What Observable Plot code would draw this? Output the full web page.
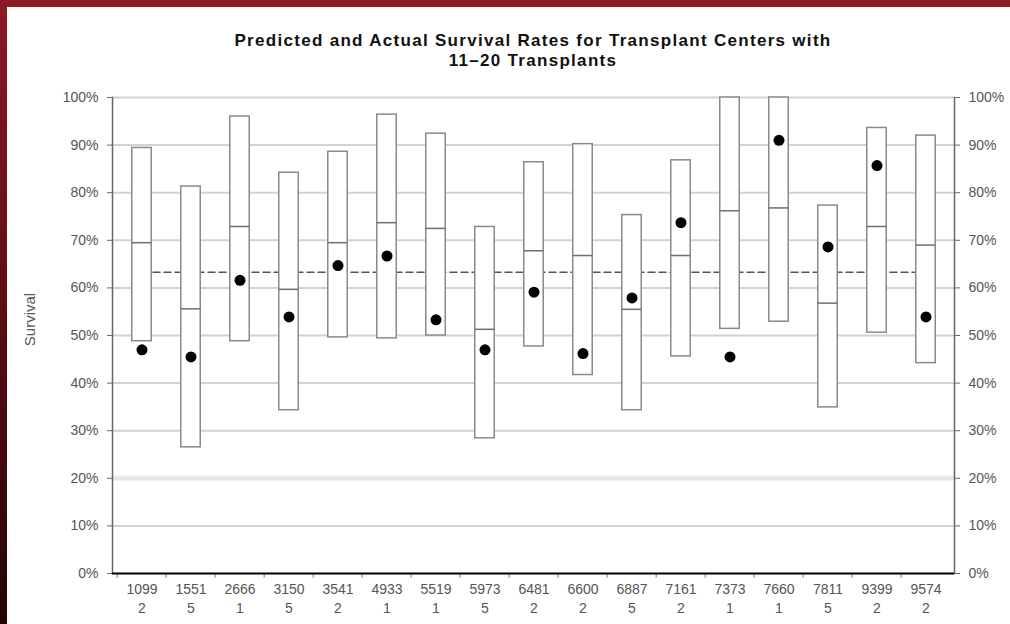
<!DOCTYPE html>
<html>
<head>
<meta charset="utf-8">
<script src="https://cdn.jsdelivr.net/npm/d3@7"></script>
<script src="https://cdn.jsdelivr.net/npm/@observablehq/plot@0.6"></script>
<style>
  html, body { margin: 0; padding: 0; background: #fff; }
  #page { position: relative; width: 1010px; height: 624px; overflow: hidden; background: #fff; font-family: "Liberation Sans", Arial, sans-serif; }
  #topbar { position: absolute; left: 0; top: 0; width: 1010px; height: 7px; background: #8b1a23; }
  #leftbar { position: absolute; left: 0; top: 0; width: 7px; height: 624px; background: linear-gradient(#8b1a23, #5a0e14 50%, #220406); }
  #title { position: absolute; left: 112px; top: 31px; width: 842px; text-align: center; font-weight: bold; font-size: 17px; letter-spacing: 1.3px; line-height: 20px; color: #111; }
  #chart { position: absolute; left: 0; top: 80px; }
</style>
</head>
<body>
<div id="page">
  <div id="topbar"></div>
  <div id="leftbar"></div>
  <div id="title">Predicted and Actual Survival Rates for Transplant Centers with<br>11–20 Transplants</div>
  <div id="chart"></div>
</div>
<script>
const ids    = ["1099","1551","2666","3150","3541","4933","5519","5973","6481","6600","6887","7161","7373","7660","7811","9399","9574"];
const codes  = ["2","5","1","5","2","1","1","5","2","2","5","2","1","1","5","2","2"];
const lower  = [48.8, 26.5, 48.8, 34.3, 49.6, 49.4, 50.0, 28.4, 47.7, 41.7, 34.3, 45.6, 51.4, 52.9, 34.9, 50.6, 44.2];
const middle = [69.5, 55.6, 72.9, 59.7, 69.5, 73.7, 72.5, 51.3, 67.8, 66.8, 55.5, 66.8, 76.2, 76.8, 56.8, 72.9, 69.0];
const upper  = [89.4, 81.3, 96.0, 84.2, 88.6, 96.4, 92.4, 72.8, 86.4, 90.2, 75.3, 86.8, 100, 100, 77.3, 93.6, 92.0];
const actual = [47.0, 45.5, 61.6, 53.9, 64.7, 66.7, 53.3, 47.0, 59.1, 46.2, 57.9, 73.7, 45.5, 91.0, 68.6, 85.7, 53.9];
const overall = 63.3;
const yTicks = [0, 10, 20, 30, 40, 50, 60, 70, 80, 90, 100];
const yLabel = "Survival";

const rows = ids.map((id, i) => ({id, code: codes[i], lower: lower[i], middle: middle[i], upper: upper[i], actual: actual[i]}));
const refLine = [{id: ids[0], v: overall}, {id: ids[ids.length - 1], v: overall}];

const W = 1010, H = 544, mL = 112, mR = 56, mT = 17, mB = 51;
const bw = (W - mL - mR) / ids.length;
const inset = (bw - 20) / 2;
const font = "'Liberation Sans', Arial, sans-serif";

const chart = Plot.plot({
  width: W, height: H,
  marginLeft: mL, marginRight: mR, marginTop: mT, marginBottom: mB,
  style: {fontFamily: font, fontSize: "14px", background: "transparent", overflow: "visible"},
  x: {type: "band", domain: ids, padding: 0},
  y: {domain: [0, 100]},
  marks: [
    Plot.ruleY(yTicks.filter(t => t !== 0 && t !== 20), {stroke: "#d2d2d2", strokeWidth: 2}),
    Plot.ruleY([20], {stroke: "#e8e8e8", strokeWidth: 5}),
    Plot.lineY(refLine, {x: "id", y: "v", stroke: "#555", strokeWidth: 1.5, strokeDasharray: "7,4"}),
    Plot.barY(rows, {x: "id", y1: "lower", y2: "upper", fill: "white", stroke: "#8a8a8a", strokeWidth: 1.5, insetLeft: inset, insetRight: inset}),
    Plot.tickY(rows, {x: "id", y: "middle", stroke: "#6e6e6e", strokeWidth: 1.5, insetLeft: inset, insetRight: inset}),
    Plot.dot(rows, {x: "id", y: "actual", r: 5.5, fill: "black", stroke: "none"}),
    Plot.ruleX(ids, {x: d => d, y1: 0, y2: -1, dx: -bw / 2, stroke: "#aaa", strokeWidth: 1.5}),
    Plot.frame({anchor: "left", stroke: "#666", strokeWidth: 1.5}),
    Plot.frame({anchor: "right", stroke: "#666", strokeWidth: 1.5}),
    Plot.ruleY([0], {stroke: "black", strokeWidth: 2}),
    Plot.axisY({anchor: "left", ticks: yTicks, tickFormat: d => d + "%", tickSize: 5, tickPadding: 9, stroke: "#666", fill: "#555", label: null}),
    Plot.axisY({anchor: "right", ticks: yTicks, tickFormat: d => d + "%", tickSize: 5, tickPadding: 9, stroke: "#666", fill: "#555", label: null}),
    Plot.text([yLabel], {frameAnchor: "left", text: d => d, rotate: -90, textAnchor: "middle", dx: -82, dy: -16, fontSize: 15, fill: "#555"}),
    Plot.axisX({anchor: "bottom", tickSize: 0, tickPadding: 8, fill: "#555", lineHeight: 1.3,
      tickFormat: (d, i) => d + "\n" + codes[ids.indexOf(d)], label: null})
  ]
});
document.getElementById("chart").appendChild(chart);
</script>
</body>
</html>
